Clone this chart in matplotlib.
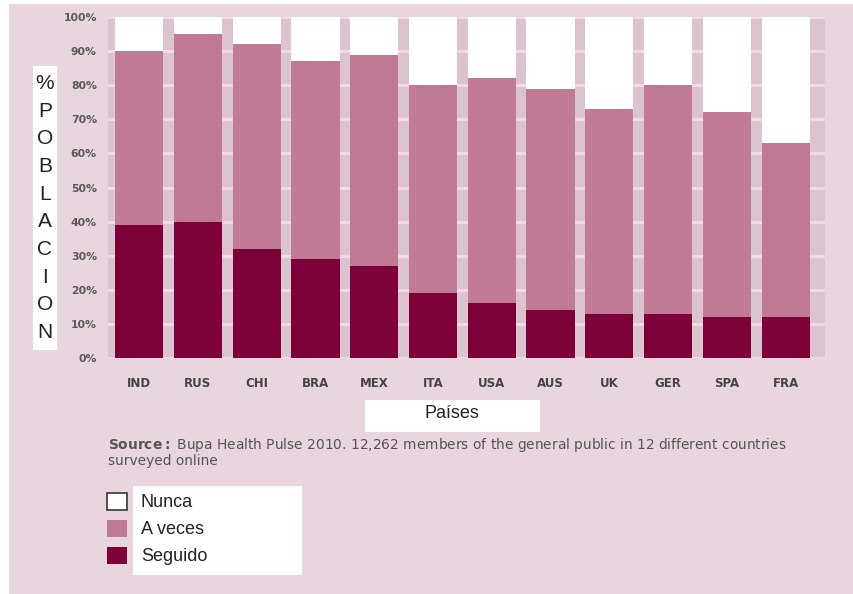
import matplotlib
matplotlib.use("Agg")
import matplotlib.pyplot as plt
from matplotlib.patches import Patch, Rectangle
import numpy as np

countries = ["IND", "RUS", "CHI", "BRA", "MEX", "ITA", "USA", "AUS", "UK", "GER", "SPA", "FRA"]
seguido = [39, 40, 32, 29, 27, 19, 16, 14, 13, 13, 12, 12]
a_veces = [51, 55, 60, 58, 62, 61, 66, 65, 60, 67, 60, 51]
nunca = [10, 5, 8, 13, 11, 20, 18, 21, 27, 20, 28, 37]
yticks = [0, 10, 20, 30, 40, 50, 60, 70, 80, 90, 100]
ytick_labels = [f"{v}%" for v in yticks]
series_labels = ["Nunca", "A veces", "Seguido"]

W, H = 854, 594
fig = plt.figure(figsize=(W / 100, H / 100), dpi=100, facecolor="white")

# background panel
fig.patches.append(Rectangle((9 / W, 0), 1 - 9 / W, 1 - 4 / H, transform=fig.transFigure,
                             facecolor="#e9d5df", edgecolor="none", zorder=-10))

ax = fig.add_axes([108 / W, 1 - 358 / H, (825 - 108) / W, (358 - 17) / H])
ax.set_facecolor("#dcc3d0")

x = np.arange(len(countries))
bw = 0.82
c_seg, c_av, c_nun = "#7d0038", "#c07a95", "#ffffff"
ax.bar(x, seguido, bw, color=c_seg, zorder=3)
ax.bar(x, a_veces, bw, bottom=seguido, color=c_av, zorder=3)
bottom2 = np.array(seguido) + np.array(a_veces)
ax.bar(x, nunca, bw, bottom=bottom2, color=c_nun, zorder=3)

ax.set_xlim(-0.53, 11.67)
ax.set_ylim(0, 100)
ax.set_yticks(yticks)
ax.set_yticklabels(ytick_labels)
ax.set_xticks(x)
ax.set_xticklabels(countries)
ax.yaxis.grid(True, color="#f4d8e6", linewidth=2.2, zorder=1)
ax.set_axisbelow(True)
for s in ax.spines.values():
    s.set_visible(False)
ax.tick_params(axis="both", length=0)
ax.tick_params(axis="y", pad=8, labelsize=7.8, labelcolor="#5a5a5a")
ax.tick_params(axis="x", pad=14, labelsize=8.5, labelcolor="#444444")
for lab in ax.get_yticklabels() + ax.get_xticklabels():
    lab.set_fontweight("bold")

# vertical y label in a white box
fig.patches.append(Rectangle((33 / W, 1 - 350 / H), 24 / W, (350 - 66) / H,
                             transform=fig.transFigure, facecolor="white",
                             edgecolor="none", zorder=1))
fig.text(45 / W, 1 - 208 / H, "\n".join("%POBLACION"), ha="center", va="center",
         fontsize=15, family="Liberation Sans", linespacing=1.58, color="#222222")

# x label in a white box
fig.patches.append(Rectangle((365 / W, 1 - 432 / H), 175 / W, 32 / H,
                             transform=fig.transFigure, facecolor="white",
                             edgecolor="none", zorder=1))
fig.text(452 / W, 1 - 413 / H, "Países", ha="center", va="center",
         fontsize=13, family="Liberation Sans", color="#222222")

# source
fig.text(108 / W, 1 - 445 / H, r"$\bf{Source:}$ Bupa Health Pulse 2010. 12,262 members of the general public in 12 different countries",
         ha="left", va="center", fontsize=9.9, color="#555555")
fig.text(108 / W, 1 - 461 / H, "surveyed online",
         ha="left", va="center", fontsize=9.9, color="#555555")

# legend
fig.patches.append(Rectangle((133 / W, 1 - 575 / H), 169 / W, 89 / H,
                             transform=fig.transFigure, facecolor="white",
                             edgecolor="none", zorder=1))
handles = [Patch(facecolor=c_nun, edgecolor="#333333", linewidth=1.2),
           Patch(facecolor=c_av, edgecolor="none"),
           Patch(facecolor=c_seg, edgecolor="none")]
leg = fig.legend(handles, series_labels, loc="upper left",
                 bbox_to_anchor=(94 / W, 1 - 480 / H), frameon=False,
                 prop={"family": "Liberation Sans", "size": 13},
                 handlelength=1.15, handleheight=1.1, handletextpad=0.75,
                 labelspacing=0.45, borderpad=0.2)
for t in leg.get_texts():
    t.set_color("#222222")

fig.savefig("out.png", dpi=100, facecolor=fig.get_facecolor())
